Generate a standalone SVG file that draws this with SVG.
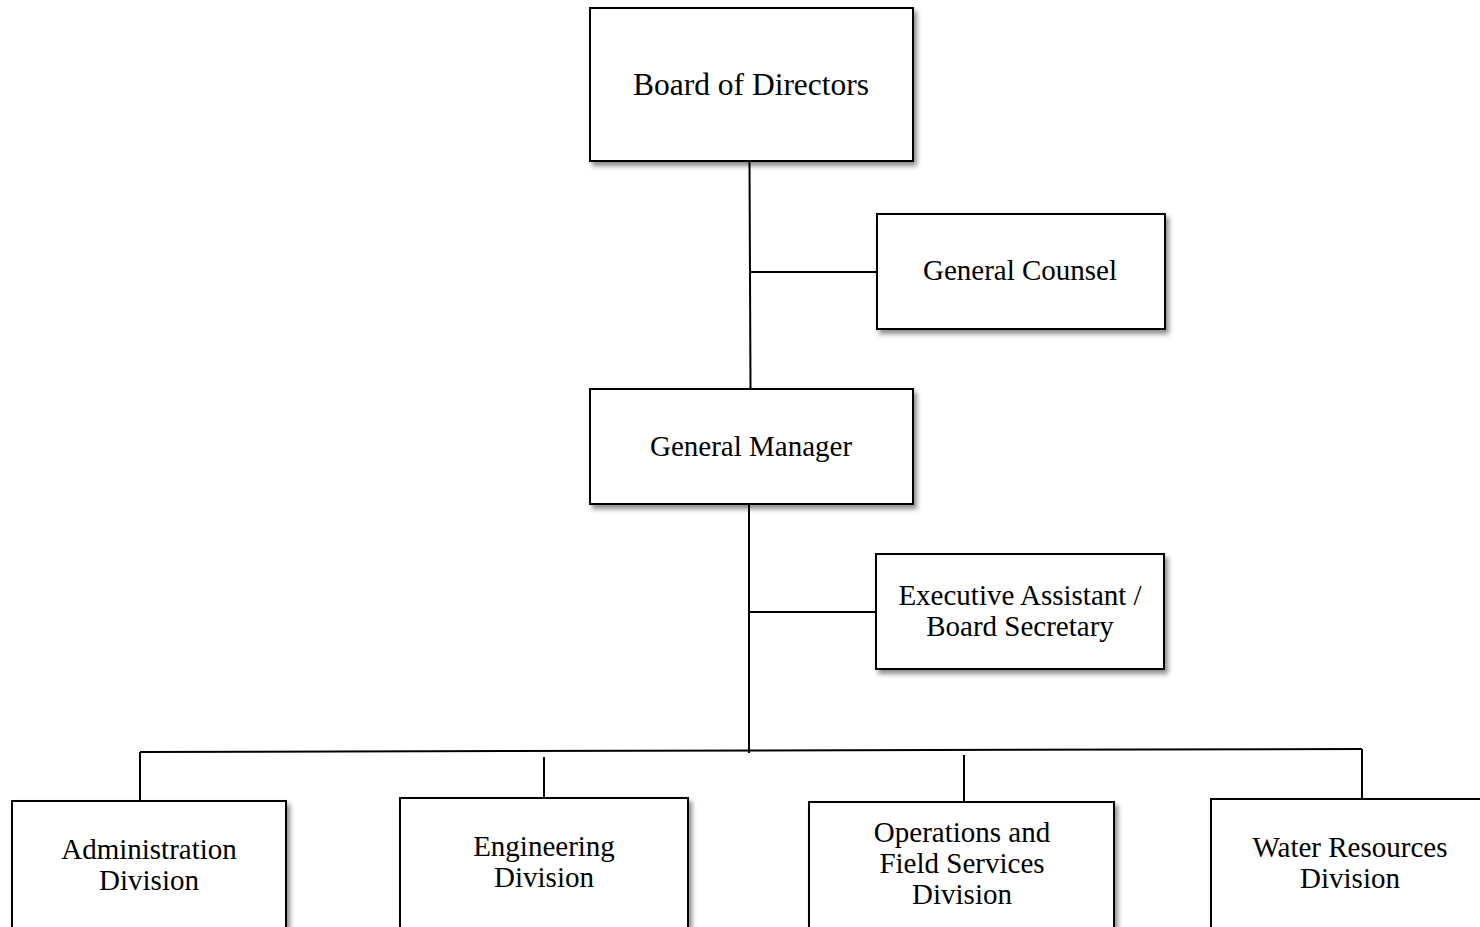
<svg xmlns="http://www.w3.org/2000/svg" width="1480" height="927" viewBox="0 0 1480 927">
<style>
.box{fill:#fff;stroke:#000;stroke-width:2;filter:url(#sh)}
.t{font-family:"Liberation Serif","Times New Roman",serif;font-size:29px;fill:#000;text-anchor:middle}
.big{font-size:31.5px}
.c{stroke:#000;stroke-width:2;fill:none}
</style>
<defs>
<filter id="sh" x="-10%" y="-10%" width="125%" height="130%">
<feDropShadow dx="3" dy="4" stdDeviation="2.5" flood-color="#000" flood-opacity="0.45"/>
</filter>
</defs>
<rect width="1480" height="927" fill="#fff"/>
<g id="connectors">
<line class="c" x1="749.5" y1="161" x2="750.5" y2="389"/>
<line class="c" x1="750" y1="272" x2="877" y2="272"/>
<line class="c" x1="749" y1="504" x2="749" y2="753"/>
<line class="c" x1="749" y1="612" x2="876" y2="612"/>
<line class="c" x1="140" y1="752" x2="1362" y2="749"/>
<line class="c" x1="140" y1="752" x2="140" y2="801"/>
<line class="c" x1="544" y1="757" x2="544" y2="798"/>
<line class="c" x1="964" y1="755" x2="964" y2="802"/>
<line class="c" x1="1362" y1="749" x2="1362" y2="799"/>
</g>
<g id="board">
<rect class="box" x="590" y="8" width="323" height="153"/>
<text class="t big" x="751" y="95">Board of Directors</text>
</g>
<g id="counsel">
<rect class="box" x="877" y="214" width="288" height="115"/>
<text class="t" x="1020" y="280">General Counsel</text>
</g>
<g id="gm">
<rect class="box" x="590" y="389" width="323" height="115"/>
<text class="t" x="751" y="456">General Manager</text>
</g>
<g id="exec">
<rect class="box" x="876" y="554" width="288" height="115"/>
<text class="t" x="1020" y="605">Executive Assistant /</text>
<text class="t" x="1020" y="636">Board Secretary</text>
</g>
<g id="admin">
<rect class="box" x="12" y="801" width="274" height="140"/>
<text class="t" x="149" y="859">Administration</text>
<text class="t" x="149" y="890">Division</text>
</g>
<g id="eng">
<rect class="box" x="400" y="798" width="288" height="140"/>
<text class="t" x="544" y="856">Engineering</text>
<text class="t" x="544" y="887">Division</text>
</g>
<g id="ops">
<rect class="box" x="809" y="802" width="305" height="140"/>
<text class="t" x="962" y="842">Operations and</text>
<text class="t" x="962" y="873">Field Services</text>
<text class="t" x="962" y="904">Division</text>
</g>
<g id="water">
<rect class="box" x="1211" y="799" width="280" height="140"/>
<text class="t" x="1350" y="857">Water Resources</text>
<text class="t" x="1350" y="888">Division</text>
</g>
</svg>
